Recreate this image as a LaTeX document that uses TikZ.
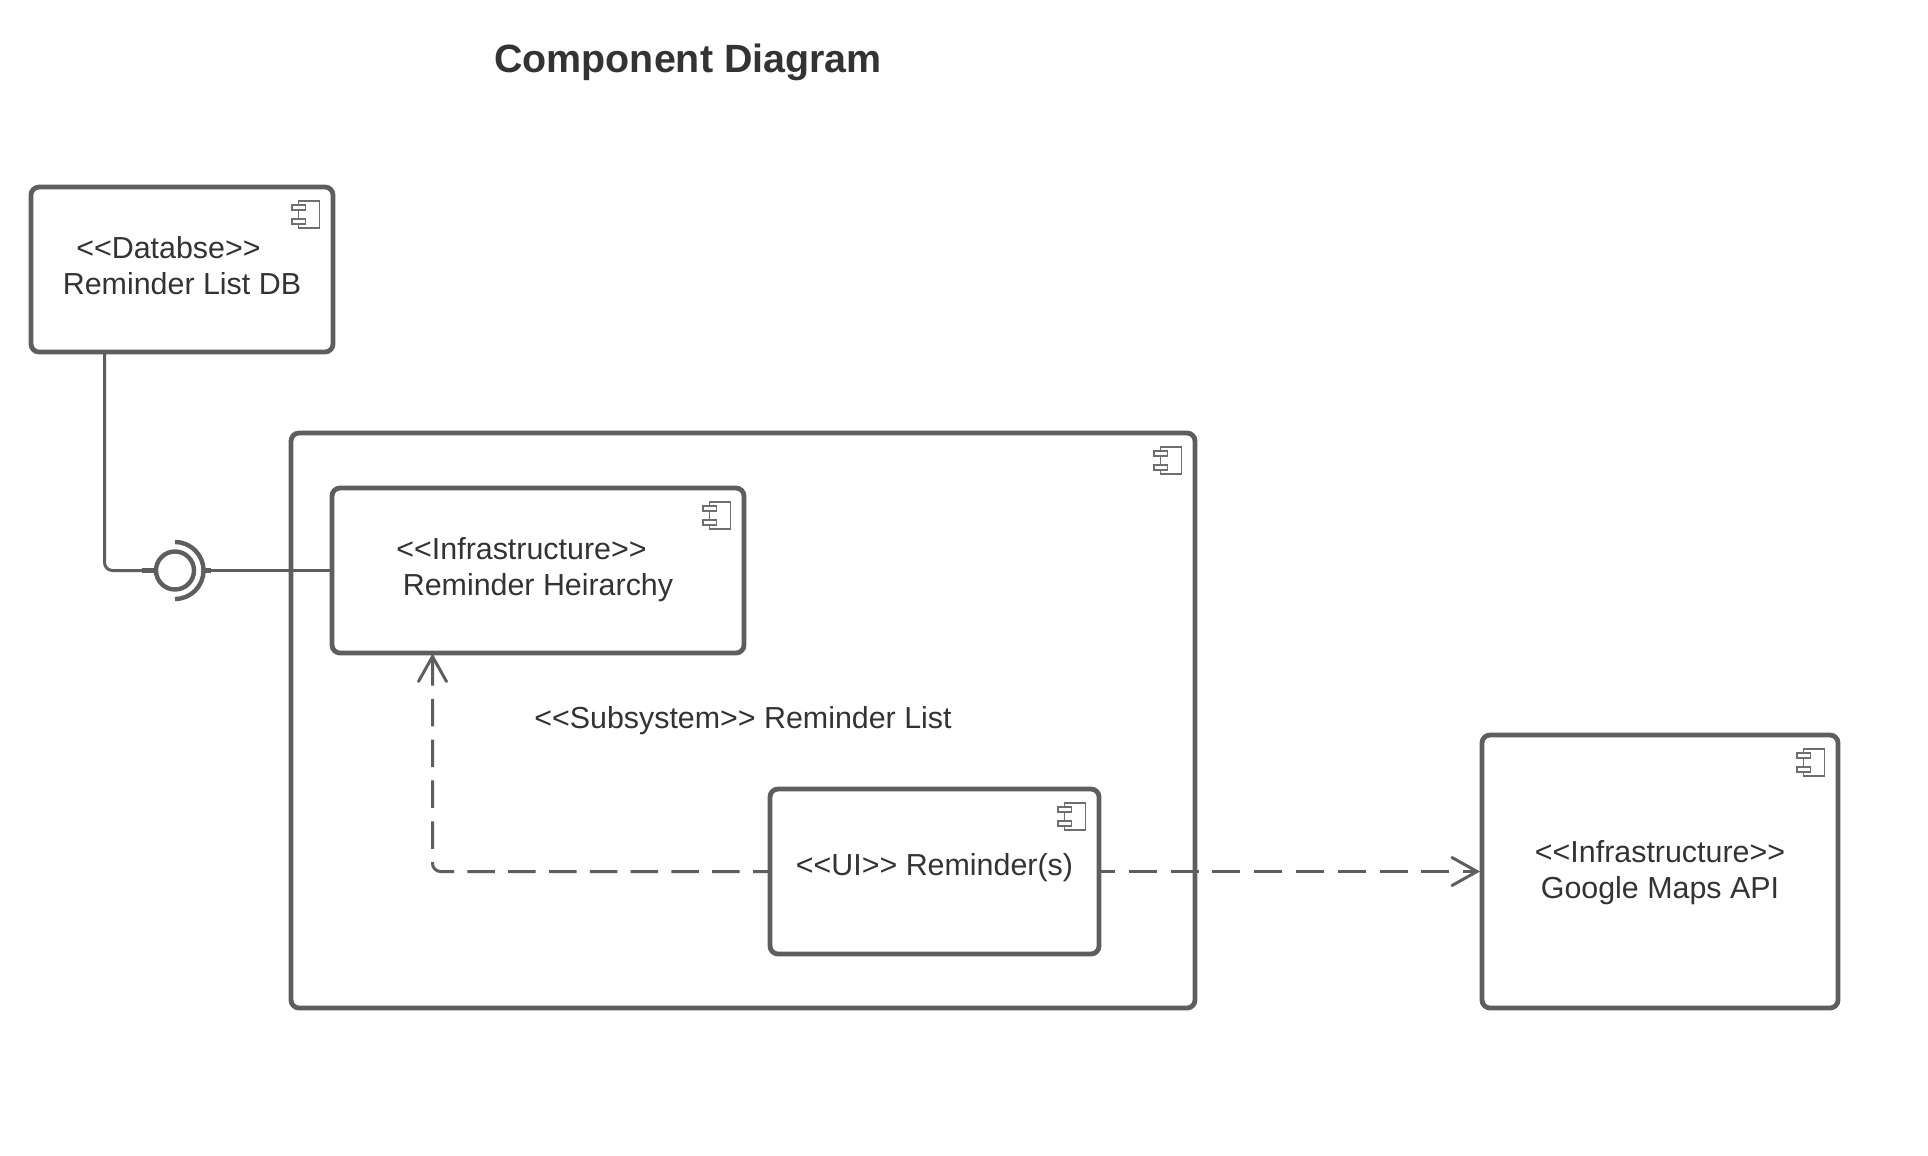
\documentclass[tikz,border=0pt]{standalone}
\usepackage{fontspec}
\setmainfont{Liberation Sans}
\usetikzlibrary{arrows.meta,calc}
\definecolor{linegray}{HTML}{5E5E5E}
\definecolor{icongray}{HTML}{6E6E6E}
\definecolor{inkgray}{HTML}{333333}
\tikzset{
  compbox/.style={draw=linegray,line width=4.8pt,rounded corners=8pt,fill=white,outer sep=0pt,inner sep=0pt},
  boxtext/.style={text=inkgray,font=\fontsize{30.4}{36.3}\selectfont,align=center,inner sep=0pt},
  wire/.style={draw=linegray,line width=3pt},
  stub/.style={draw=linegray,line width=5pt},
  depend/.style={draw=linegray,line width=3pt,rounded corners=8pt},
  barb/.style={draw=linegray,line width=3pt,line cap=round},
  compicon/.pic={
    \draw[icongray,line width=1.6pt] (-34.5,14) rectangle (-13.5,41);
    \draw[icongray,line width=1.6pt,fill=white] (-41,18) rectangle (-27.5,23);
    \draw[icongray,line width=1.6pt,fill=white] (-41,32) rectangle (-27.5,37);
  }
}
\begin{document}
\begin{tikzpicture}[x=1pt,y=-1pt]
\useasboundingbox (0,0) rectangle (1928,1156);
\fill[white] (0,0) rectangle (1928,1156);
\node[font=\fontsize{39.4}{46}\selectfont\bfseries,text=inkgray,inner sep=0pt] (title) at (688,62.5) {Component Diagram};

\node[compbox,minimum width=302pt,minimum height=165pt] (db) at (182,269.5) {};
\node[compbox,minimum width=904pt,minimum height=575pt] (sub) at (743,720.5) {};
\node[compbox,minimum width=412pt,minimum height=165pt] (hier) at (538,570.5) {};
\node[compbox,minimum width=329pt,minimum height=165pt] (ui) at (934.5,871.5) {};
\node[compbox,minimum width=356pt,minimum height=273pt] (gm) at (1660,871.5) {};

\pic at (db.north east) {compicon};
\pic at (sub.north east) {compicon};
\pic at (hier.north east) {compicon};
\pic at (ui.north east) {compicon};
\pic at (gm.north east) {compicon};

\node[boxtext] (dbt) at (182,265.5) {<{}<Databse>{}>\hspace*{27pt}\mbox{}\\Reminder List DB};
\node[boxtext] (hiert) at (538,569.5) {<{}<Infrastructure>{}>\hspace*{33pt}\mbox{}\\Reminder Heirarchy};
\node[boxtext] (subt) at (743,720.5) {<{}<Subsystem>{}> Reminder List};
\node[boxtext] (uit) at (934.5,868) {<{}<UI>{}> Reminder(s)};
\node[boxtext] (gmt) at (1660,872.5) {<{}<Infrastructure>{}>\\Google Maps API};

% provided/required interface
\node[circle,draw=linegray,line width=4.4pt,minimum size=38pt,inner sep=0pt,outer sep=0pt] (iface) at (175,570.5) {};
\draw[draw=linegray,line width=4.4pt] (175,542) arc[start angle=90,end angle=-90,radius=28.5pt];
\coordinate (dbfoot) at ($(db.south west)+(73.5,0)$);
\coordinate (arcr) at ($(iface.center)+(28.5,0)$);
\draw[wire,rounded corners=8pt] (dbfoot) |- (iface.west);
\draw[stub] ($(iface.west)+(-14,0)$) -- (iface.west);
\draw[wire] (hier.west) -- (arcr);
\draw[stub] ($(arcr)+(7,0)$) -- (arcr);

% dependencies
\coordinate (hierfoot) at ($(hier.south west)+(100.5,3.5)$);
\coordinate (gmin) at ($(gm.west)+(-5,0)$);
\draw[depend,dash pattern=on 27.5pt off 13.3pt,dash phase=10.5pt] (ui.west) -| (hierfoot);
\draw[barb] ($(hierfoot)+(-14,25)$) -- (hierfoot) -- ($(hierfoot)+(14,25)$);
\draw[depend,dash pattern=on 28pt off 13.8pt,dash phase=12pt] (ui.east) -- (gmin);
\draw[barb] ($(gmin)+(-25,-14)$) -- (gmin) -- ($(gmin)+(-25,14)$);
\end{tikzpicture}
\end{document}
